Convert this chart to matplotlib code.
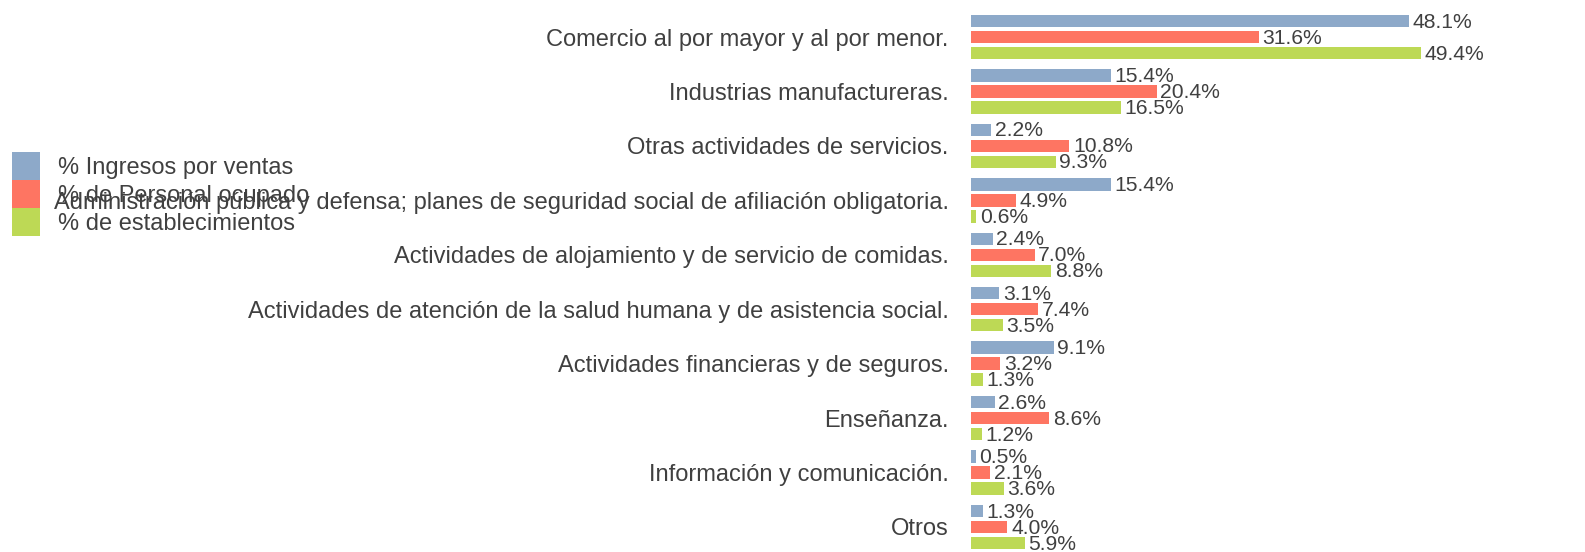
import matplotlib.pyplot as plt
import numpy as np

labels = ['Comercio al por mayor y al por menor.',
          'Industrias manufactureras.',
          'Otras actividades de servicios.',
          'Administración pública y defensa; planes de seguridad social de afiliación obligatoria.',
          'Actividades de alojamiento y de servicio de comidas.',
          'Actividades de atención de la salud humana y de asistencia social.',
          'Actividades financieras y de seguros.',
          'Enseñanza.',
          'Información y comunicación.',
          'Otros']
ingresos = [48.1, 15.4, 2.2, 15.4, 2.4, 3.1, 9.1, 2.6, 0.5, 1.3]
personal = [31.6, 20.4, 10.8, 4.9, 7.0, 7.4, 3.2, 8.6, 2.1, 4.0]
establecimientos = [49.4, 16.5, 9.3, 0.6, 8.8, 3.5, 1.3, 1.2, 3.6, 5.9]
series_names = ['% Ingresos por ventas', '% de Personal ocupado', '% de establecimientos']

plt.rcParams['font.family'] = ['Liberation Sans', 'DejaVu Sans']
plt.rcParams['text.color'] = '#404040'


class barChart(object):

    def __init__(self):
        self.colors = ['#8DA9C9', '#FE7562', '#BDD955']
        self.step = 0.294
        self.height = 0.23
        self.fig = plt.figure(figsize=(15.85, 5.52), dpi=100)
        self.ax = self.fig.add_axes([971 / 1585, 0, 614 / 1585, 1])
        y = np.arange(len(labels))

        for i, values in enumerate([ingresos, personal, establecimientos]):
            pos = y + (i - 1) * self.step
            self.ax.barh(pos, values, self.height, color=self.colors[i], label=series_names[i])
            for p, value in zip(pos, values):
                self.ax.text(value + 0.4, p + 0.02, '%.1f%%' % value,
                             va='center', ha='left', fontsize=15.2, color='#404040')

        self.ax.set_yticks(y)
        self.ax.set_yticklabels(labels, fontsize=17, color='#404040')
        self.ax.tick_params(axis='y', length=0, pad=16)
        self.ax.set_xticks([])
        self.ax.set_xlim(0, 614 / 9.1)
        self.ax.set_ylim(9.46, -0.68)  # top group first
        for side in self.ax.spines.values():
            side.set_visible(False)

        self.fig.legend(loc='upper left', bbox_to_anchor=(12 / 1585, 1 - 152 / 552),
                        frameon=False, fontsize=17, labelspacing=0,
                        handlelength=1.19, handleheight=1.45, handletextpad=0.76,
                        borderaxespad=0, borderpad=0)


chart = barChart()
chart.fig.savefig('out.png', dpi=100)
